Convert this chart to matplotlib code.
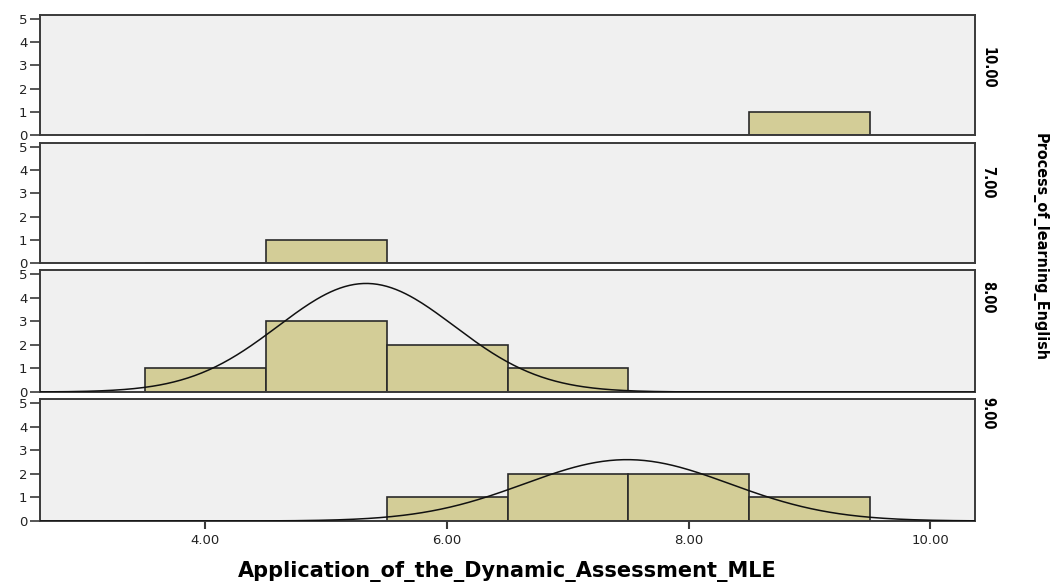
import numpy as np
import matplotlib.pyplot as plt

# histogram counts per panel (bins of width 1 centred on whole numbers)
groups = ["10.00", "7.00", "8.00", "9.00"]
bin_centres = [4, 5, 6, 7, 8, 9]
counts = {
    "10.00": [0, 0, 0, 0, 0, 1],
    "7.00":  [0, 1, 0, 0, 0, 0],
    "8.00":  [1, 3, 2, 1, 0, 0],
    "9.00":  [0, 0, 1, 2, 2, 1],
}
# fitted normal curves: (mean, sd, peak height); none for single-value groups
curves = {
    "8.00": (5.33, 0.73, 4.6),
    "9.00": (7.49, 0.85, 2.6),
}
xticks = [4, 6, 8, 10]
xticklabels = ["4.00", "6.00", "8.00", "10.00"]
yticks = [0, 1, 2, 3, 4, 5]

W, H = 1050, 582
fig = plt.figure(figsize=(W / 100, H / 100), dpi=100)
fig.patch.set_facecolor("white")

panels_px = [(15, 135), (143, 263), (270, 392), (399, 521)]
label_frac = [0.56, 0.675, 0.78, 0.885]
left_px, right_px = 40, 975

edge = "#3a3a3a"
for i, g in enumerate(groups):
    top, bot = panels_px[i]
    ax = fig.add_axes([left_px / W, 1 - bot / H, (right_px - left_px) / W, (bot - top) / H])
    ax.set_facecolor("#f0f0f0")
    ax.bar(bin_centres, counts[g], width=1.0, color="#d3cd97", edgecolor="#2a2a2a",
           linewidth=1.2, zorder=2)
    if g in curves:
        mu, sd, peak = curves[g]
        xs = np.linspace(2.63, 10.37, 400)
        ax.plot(xs, peak * np.exp(-0.5 * ((xs - mu) / sd) ** 2), color="#111111",
                linewidth=1.1, zorder=3)
    ax.set_xlim(2.63, 10.37)
    ax.set_ylim(0, 5.17)
    ax.set_yticks(yticks)
    ax.set_yticklabels([str(v) for v in yticks], fontsize=9.5, color="#222222")
    ax.tick_params(axis="y", length=7, width=1.2, color=edge, pad=2)
    for s in ax.spines.values():
        s.set_color(edge)
        s.set_linewidth(1.4)
    ax.text(1.006, label_frac[i], g, transform=ax.transAxes, rotation=-90,
            ha="left", va="center", fontsize=10.5, fontweight="bold",
            fontstretch="condensed", family="DejaVu Sans")
    if i < len(groups) - 1:
        ax.set_xticks([])
    else:
        ax.set_xticks(xticks)
        ax.set_xticklabels(xticklabels, fontsize=9.5, color="#222222")
        ax.tick_params(axis="x", length=6, width=1.5, color=edge, pad=3)

fig.text(507 / W, 1 - 571 / H, "Application_of_the_Dynamic_Assessment_MLE",
         ha="center", va="center", fontsize=15, fontweight="bold")
fig.text(1040 / W, 1 - 247 / H, "Process_of_learning_English", rotation=-90,
         ha="center", va="center", fontsize=11.5, fontweight="bold",
         fontstretch="condensed", family="DejaVu Sans")

fig.savefig("out.png", dpi=100)
